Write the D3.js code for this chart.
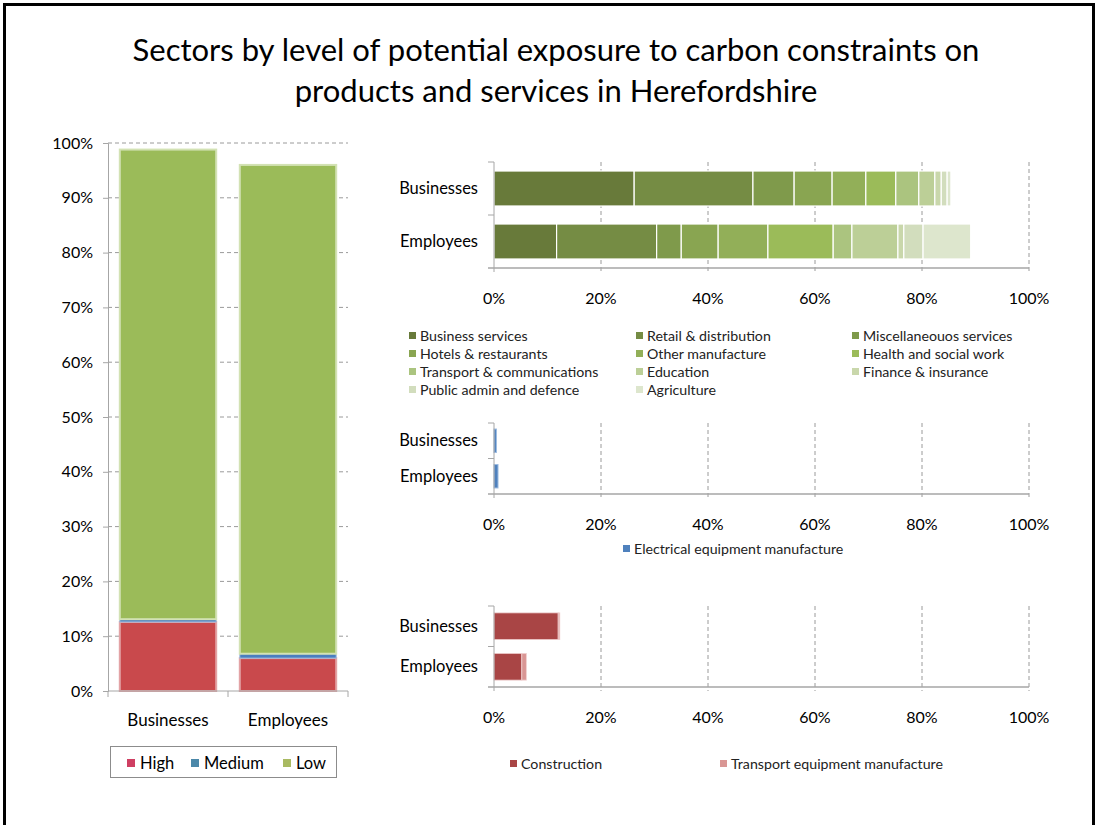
<!DOCTYPE html>
<html>
<head>
<meta charset="utf-8">
<script src="https://cdn.jsdelivr.net/npm/d3@7/dist/d3.min.js"></script>
<style>
  html, body { margin: 0; padding: 0; background: #fff; }
  svg { display: block; font-family: Lato, "Open Sans", sans-serif; }
</style>
</head>
<body>
<svg id="chart" width="1098" height="825"></svg>
<script>
// ---------- DATA ----------
const titleLines = ["Sectors by level of potential exposure to carbon constraints on",
                    "products and services in Herefordshire"];
const categories = ["Businesses", "Employees"];

// Left stacked column chart
const levelNames = ["High", "Medium", "Low"];
const highValues = [0.126, 0.060];
const mediumValues = [0.005, 0.008];
const lowValues = [0.857, 0.892];
const leftTicks = [0, 0.1, 0.2, 0.3, 0.4, 0.5, 0.6, 0.7, 0.8, 0.9, 1.0];

// Top right: low exposure sectors
const lowSectors = ["Business services", "Retail & distribution", "Miscellaneouos services",
  "Hotels & restaurants", "Other manufacture", "Health and social work",
  "Transport & communications", "Education", "Finance & insurance",
  "Public admin and defence", "Agriculture"];
const lowBusinesses = [0.262, 0.222, 0.077, 0.071, 0.063, 0.056, 0.043, 0.030, 0.012, 0.011, 0.007];
const lowEmployees  = [0.117, 0.187, 0.046, 0.069, 0.093, 0.122, 0.035, 0.086, 0.011, 0.036, 0.089];

// Middle: medium exposure sectors
const mediumSectors = ["Electrical equipment manufacture"];
const medBusinesses = [0.0045];
const medEmployees  = [0.0075];

// Bottom: high exposure sectors
const highSectors = ["Construction", "Transport equipment manufacture"];
const highBusinesses = [0.120, 0.003];
const highEmployees  = [0.052, 0.0085];

const xTicks = [0, 0.2, 0.4, 0.6, 0.8, 1.0];

// ---------- STYLE ----------
const levelColors = ["#c9494c", "#4a7ebf", "#9bbb59"];
const levelEdge = ["#e3a3a5", "#9fbde0", "#d3e2b4"];
const levelLegendColors = ["#cf3f62", "#4b88a9", "#a9ba62"];
const lowColors = ["#687a3a", "#758c44", "#7f9a4b", "#89a551", "#92af58", "#9bbb59",
  "#abc47f", "#bccf97", "#c9d7ab", "#d2ddbd", "#dde6cd"];
const medColors = ["#4f81bd"];
const highColors = ["#a94545", "#d99694"];
const gridColor = "#9a9a9a";
const axisColor = "#a6a6a6";

const svg = d3.select("#chart");

// border
svg.append("rect").attr("x", 4.5).attr("y", 4.5).attr("width", 1089).attr("height", 840)
  .attr("fill", "none").attr("stroke", "#000").attr("stroke-width", 3);

// title
svg.append("g").selectAll("text").data(titleLines).join("text")
  .attr("x", 556).attr("y", (d, i) => 61 + i * 41)
  .attr("text-anchor", "middle").attr("font-size", 31).attr("fill", "#000")
  .text(d => d);

// ---------- LEFT CHART ----------
{
  const x = d3.scaleBand().domain(categories).range([108, 348]).paddingInner(0.18).paddingOuter(0.09);
  const y = d3.scaleLinear().domain([0, 1]).range([691, 143]);
  const g = svg.append("g");

  // gridlines
  g.selectAll("line.grid").data(leftTicks.slice(1)).join("line")
    .attr("x1", 108).attr("x2", 348).attr("y1", d => y(d)).attr("y2", d => y(d))
    .attr("stroke", gridColor).attr("stroke-dasharray", "4,3").attr("stroke-width", 1);

  const yAxis = d3.axisLeft(y).tickValues(leftTicks).tickFormat(d3.format(".0%")).tickSize(5).tickPadding(10);
  const ya = g.append("g").attr("transform", "translate(108,0)").call(yAxis);
  ya.select(".domain").attr("stroke", axisColor);
  ya.selectAll(".tick line").attr("stroke", axisColor);
  ya.selectAll("text").attr("font-size", 16).attr("fill", "#000").attr("font-family", "Lato, sans-serif");

  const stackData = categories.map((c, i) => ({cat: c, High: highValues[i], Medium: mediumValues[i], Low: lowValues[i]}));
  const series = d3.stack().keys(levelNames)(stackData);
  series.forEach((s, si) => {
    g.append("g").selectAll("rect").data(s).join("rect")
      .attr("x", d => x(d.data.cat) + 1)
      .attr("width", x.bandwidth() - 2)
      .attr("y", d => y(d[1]))
      .attr("height", d => Math.max(0, y(d[0]) - y(d[1])))
      .attr("fill", levelColors[si])
      .attr("stroke", levelEdge[si]).attr("stroke-width", si === 1 ? 1 : 2);
  });

  // x axis
  const xa = g.append("g").attr("transform", "translate(0,691)");
  xa.append("line").attr("x1", 108).attr("x2", 348).attr("stroke", axisColor);
  xa.selectAll("line.tk").data([108, 228, 348]).join("line")
    .attr("x1", d => d).attr("x2", d => d).attr("y1", 0).attr("y2", 6).attr("stroke", axisColor);
  xa.selectAll("text").data(categories).join("text")
    .attr("x", d => x(d) + x.bandwidth() / 2).attr("y", 35)
    .attr("text-anchor", "middle").attr("font-size", 17).attr("fill", "#000").text(d => d);

  // legend
  const lg = svg.append("g");
  lg.append("rect").attr("x", 110.5).attr("y", 746.5).attr("width", 226).attr("height", 31)
    .attr("fill", "#fff").attr("stroke", "#8c8c8c");
  const lx = [127, 191, 283];
  levelNames.forEach((n, i) => {
    lg.append("rect").attr("x", lx[i]).attr("y", 759).attr("width", 8).attr("height", 8)
      .attr("fill", levelLegendColors[i]);
    lg.append("text").attr("x", lx[i] + 13).attr("y", 769).attr("font-size", 16.5).attr("fill", "#000").text(n);
  });
}

// ---------- RIGHT CHARTS ----------
function barChart(opts) {
  const x = d3.scaleLinear().domain([0, 1]).range([494, 1029]);
  const y = d3.scaleBand().domain(categories).range([opts.top, opts.bottom]).paddingInner(0.34).paddingOuter(0.17);
  const g = svg.append("g");

  // gridlines
  g.selectAll("line.grid").data(xTicks.slice(1)).join("line")
    .attr("x1", d => x(d)).attr("x2", d => x(d)).attr("y1", opts.top).attr("y2", opts.bottom + 4)
    .attr("stroke", gridColor).attr("stroke-dasharray", "4,3");

  // bars
  const rows = categories.map((c, i) => {
    const obj = {cat: c};
    opts.keys.forEach((k, j) => obj[k] = opts.values[i][j]);
    return obj;
  });
  const series = d3.stack().keys(opts.keys)(rows);
  series.forEach((s, si) => {
    g.append("g").selectAll("rect").data(s).join("rect")
      .attr("x", d => x(d[0]))
      .attr("width", d => Math.max(0, x(d[1]) - x(d[0])))
      .attr("y", d => y(d.data.cat))
      .attr("height", y.bandwidth())
      .attr("fill", opts.colors[si])
      .attr("stroke", opts.stroke).attr("stroke-width", opts.strokeWidth);
  });

  // y axis
  g.append("line").attr("x1", 494).attr("x2", 494).attr("y1", opts.top).attr("y2", opts.bottom + 4).attr("stroke", axisColor);
  g.selectAll("line.ytk").data([opts.top, opts.top + (opts.bottom - opts.top) / 2]).join("line")
    .attr("x1", 488).attr("x2", 494).attr("y1", d => d).attr("y2", d => d).attr("stroke", axisColor);
  g.selectAll("text.cat").data(categories).join("text")
    .attr("x", 478).attr("y", d => y(d) + y.bandwidth() / 2 + 5.5)
    .attr("text-anchor", "end").attr("font-size", 16.5).attr("fill", "#000").text(d => d);

  // x axis
  g.append("line").attr("x1", 488).attr("x2", 1029).attr("y1", opts.bottom).attr("y2", opts.bottom)
    .attr("stroke", axisColor).attr("stroke-width", 1.5);
  g.selectAll("text.xt").data(xTicks).join("text")
    .attr("x", d => x(d)).attr("y", opts.bottom + 36)
    .attr("text-anchor", "middle").attr("font-size", 16).attr("fill", "#000")
    .text(d => d3.format(".0%")(d));

  // legend
  opts.legend.forEach(item => {
    g.append("rect").attr("x", item.x).attr("y", item.y - 4).attr("width", 7).attr("height", 7)
      .attr("fill", opts.colors[item.i]);
    g.append("text").attr("x", item.x + 11).attr("y", item.y + 5)
      .attr("font-size", 14.2).attr("fill", "#222").text(opts.keys[item.i]);
  });
}

// top chart
{
  const colX = [409, 636, 852];
  const rowY = [336, 354, 372, 390];
  barChart({
    top: 162, bottom: 268,
    keys: lowSectors,
    values: [lowBusinesses, lowEmployees],
    colors: lowColors,
    stroke: "#ffffff", strokeWidth: 1.2,
    legend: lowSectors.map((s, i) => ({i, x: colX[i % 3], y: rowY[Math.floor(i / 3)]}))
  });
}
// middle chart
barChart({
  top: 423, bottom: 494,
  keys: mediumSectors,
  values: [medBusinesses, medEmployees],
  colors: medColors,
  stroke: "#9dbbe0", strokeWidth: 1,
  legend: [{i: 0, x: 623, y: 549}]
});
// bottom chart
barChart({
  top: 606, bottom: 687,
  keys: highSectors,
  values: [highBusinesses, highEmployees],
  colors: highColors,
  stroke: "#f0d0d0", strokeWidth: 0.8,
  legend: [{i: 0, x: 510, y: 764}, {i: 1, x: 720, y: 764}]
});
</script>
</body>
</html>
